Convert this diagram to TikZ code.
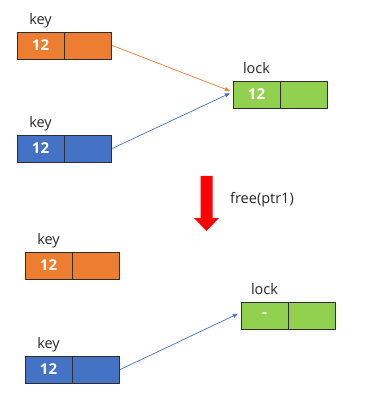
\documentclass[tikz,border=0pt]{standalone}
\usepackage{fontspec}
\setmainfont{Open Sans}
\usetikzlibrary{positioning,arrows.meta}

\definecolor{keyorange}{HTML}{ED7D31}
\definecolor{keyblue}{HTML}{4472C4}
\definecolor{lockgreen}{HTML}{92D050}
\definecolor{cellline}{HTML}{2E2E2E}

\begin{document}
\begin{tikzpicture}[
    x=1pt, y=-1pt,
    font=\fontsize{14.5}{17}\selectfont,
    cell/.style={draw=cellline, line width=0.8pt, minimum width=47pt, minimum height=27pt,
                 inner sep=0pt, font=\fontsize{15}{17}\selectfont\bfseries, text=white},
    ocell/.style={cell, fill=keyorange},
    bcell/.style={cell, fill=keyblue},
    gcell/.style={cell, fill=lockgreen},
    tag/.style={inner sep=0pt, text height=11pt, text depth=4pt, text=black!85},
    con/.style={-{Triangle[length=5pt,width=4pt]}, line width=0.7pt, shorten >=3pt},
  ]
  \useasboundingbox (0,0) rectangle (374,411);

  % ===== before free =====
  \node[ocell, label={[tag, label distance=3pt]above:key}] (ka1) at (40.5,45.5) {12};
  \node[ocell, right=0pt of ka1] (ka1r) {};
  \node[bcell, label={[tag, label distance=3pt]above:key}] (kb1) at (40.5,148.5) {12};
  \node[bcell, right=0pt of kb1] (kb1r) {};
  \node[gcell, label={[tag, label distance=3pt]above:lock}] (lk1) at (256.5,94.5) {12};
  \node[gcell, right=0pt of lk1] (lk1r) {};

  \draw[con, keyorange] (ka1r.east) -- ([yshift=2.5pt]lk1.west);
  \draw[con, keyblue] (kb1r.east) -- ([yshift=2.5pt]lk1.west);

  % ===== free(ptr1) =====
  \fill[red] (200.5,176) -- (212.5,176) -- (212.5,218) -- (219,218) -- (206.5,231)
             -- (194,218) -- (200.5,218) -- cycle;
  \node[text=black!85] (freelbl) at (262,200) {free(ptr1)};

  % ===== after free =====
  \node[ocell, label={[tag, label distance=3pt]above:key}] (ka2) at (48.5,265.5) {12};
  \node[ocell, right=0pt of ka2] (ka2r) {};
  \node[gcell, label={[tag, label distance=3pt]above:lock}] (lk2) at (264.5,315.5) {-};
  \node[gcell, right=0pt of lk2] (lk2r) {};
  \node[bcell, label={[tag, label distance=3pt]above:key}] (kb2) at (48.5,369.5) {12};
  \node[bcell, right=0pt of kb2] (kb2r) {};

  \draw[con, keyblue] (kb2r.east) -- ([yshift=3pt]lk2.west);

\end{tikzpicture}
\end{document}
